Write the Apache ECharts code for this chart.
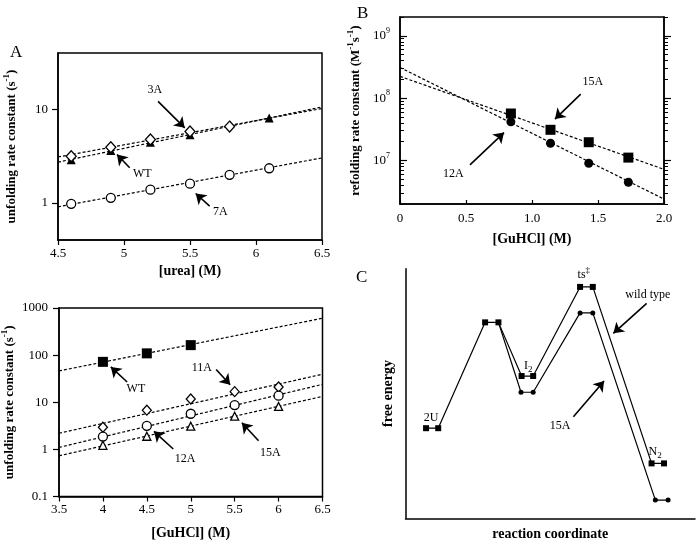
<!DOCTYPE html>
<html><head><meta charset="utf-8">
<script src="https://cdn.jsdelivr.net/npm/echarts@6/dist/echarts.min.js"></script>
<style>html,body{margin:0;padding:0;background:#fff}#c{width:700px;height:541px}</style>
</head><body><div id="c"></div>
<script>
// ---------- Panel A (top): unfolding in urea ----------
const urea3AX = [4.6, 4.9, 5.2, 5.5, 5.8];
const urea3A  = [3.15, 3.93, 4.75, 5.78, 6.53];
const ureaWTX = [4.6, 4.9, 5.2, 5.5, 6.1];
const ureaWT  = [2.88, 3.62, 4.44, 5.33, 8.09];
const urea7AX = [4.6, 4.9, 5.2, 5.5, 5.8, 6.1];
const urea7A  = [0.975, 1.13, 1.38, 1.6, 1.99, 2.34];
const ureaFitX  = [4.5, 6.5];
const ureaFit3A = [3.09, 10.2];
const ureaFitWT = [2.72, 10.6];
const ureaFit7A = [0.906, 3.02];
const ureaYTicks = [1, 10];

// ---------- Panel A (bottom): unfolding in GuHCl ----------
const guWTX = [4, 4.5, 5];
const guWT  = [72, 109, 163];
const guX   = [4, 4.5, 5, 5.5, 6];
const gu11A = [2.95, 6.8, 11.7, 16.8, 21];
const gu12A = [1.87, 3.16, 5.7, 8.7, 13.8];
const gu15A = [1.22, 1.9, 3.1, 5.06, 8.15];
const guFitX   = [3.5, 6.5];
const guFitWT  = [46.2, 607];
const guFit11A = [2.2, 39.3];
const guFit12A = [1.1, 24];
const guFit15A = [0.73, 13.3];

// ---------- Panel B: refolding ----------
const refX   = [0.84, 1.14, 1.43, 1.73];
const ref15A = [5.66e7, 3.1e7, 1.96e7, 1.11e7];
const ref12A = [4.16e7, 1.89e7, 9.0e6, 4.47e6];
const refFitX   = [0, 2];
const refFit15A = [2.23e8, 7.2e6];
const refFit12A = [3.1e8, 2.4e6];
const refMajor = [1e7, 1e8, 1e9];
const refMinor = [2e6,3e6,4e6,5e6,6e6,7e6,8e6,9e6,2e7,3e7,4e7,5e7,6e7,7e7,8e7,9e7,2e8,3e8,4e8,5e8,6e8,7e8,8e8,9e8,2e9];

// ---------- Panel C: free-energy diagram ----------
const cWTX  = [7.1, 11.3, 27.5, 32.1, 40.1, 44.1, 60.3, 64.7, 85.0, 89.3];
const cWTY  = [36.1, 36.1, 78.5, 78.5, 57.0, 57.0, 92.7, 92.7, 22.0, 22.0];
const c15AX = [32.1, 39.9, 44.1, 60.3, 64.7, 86.3, 90.7];
const c15AY = [78.5, 50.5, 50.5, 82.3, 82.3, 7.3, 7.3];

// ---------- annotations (data coordinates) ----------
const annA1 = [
  {text:'3A', at:[5.233,15.96], from:[5.258,12.17], to:[5.46,6.33]},
  {text:'WT', at:[5.139,2.04], from:[5.043,2.366], to:[4.947,3.28]},
  {text:'7A', at:[5.73,0.807], from:[5.649,0.92], to:[5.543,1.257]}
];
const annA2 = [
  {text:'WT', at:[4.376,19.5], from:[4.276,26.9], to:[4.09,56.3]},
  {text:'11A', at:[5.126,53.6], from:[5.289,49.5], to:[5.449,23.6]},
  {text:'12A', at:[4.935,0.624], from:[4.801,1.02], to:[4.581,2.42]},
  {text:'15A', at:[5.905,0.863], from:[5.772,1.53], to:[5.582,3.66]}
];
const annB = [
  {text:'15A', at:[1.46,1.81e8], from:[1.369,1.16e8], to:[1.174,4.6e7]},
  {text:'12A', at:[0.404,6.2e6], from:[0.53,8.5e6], to:[0.788,2.8e7]}
];
const annC = [
  {text:'wild type', at:[83.7,89.7], from:[83.3,86.1], to:[71.8,74.1]},
  {text:'15A', at:[53.4,37.0], from:[58.0,40.7], to:[68.6,55.0]},
  {text:'{n|2U}', at:[8.8,40.1]},
  {text:'{n|I}{sub|2}', at:[42.4,61.2]},
  {text:'{n|ts}{sup|\u2021}', at:[61.6,97.6]},
  {text:'{n|N}{sub|2}', at:[86.2,26.8]}
];

const FONT = '"Liberation Serif","Times New Roman",serif';
const K = '#000';

function pts(xs, ys) { return xs.map((x, i) => [x, ys[i]]); }

function fit(xi, yi, xs, ys) {
  return {type:'line', xAxisIndex:xi, yAxisIndex:yi, data:pts(xs, ys), symbol:'none', silent:true, z:2,
    lineStyle:{color:K, width:1.2, type:[3,2]}};
}
function scat(xi, yi, xs, ys, symbol, size, open) {
  return {type:'scatter', xAxisIndex:xi, yAxisIndex:yi, data:pts(xs, ys), symbol:symbol, symbolSize:size, z:4, silent:true,
    itemStyle: open ? {color:'#fff', borderColor:K, borderWidth:1.3, opacity:1} : {color:K, opacity:1}};
}
const richC = {
  n:{fontSize:12, fontFamily:FONT, color:K, lineHeight:18},
  sub:{fontSize:9, fontFamily:FONT, color:K, verticalAlign:'bottom', lineHeight:9},
  sup:{fontSize:9, fontFamily:FONT, color:K, verticalAlign:'top', lineHeight:10}
};
function annot(xi, yi, list) {
  const arrows = list.filter(a => a.from);
  return {type:'line', xAxisIndex:xi, yAxisIndex:yi, data:[], silent:true, z:5,
    markLine:{silent:true, symbol:['none','arrow'], symbolSize:10, animation:false,
      lineStyle:{color:K, width:1.6, type:'solid'}, label:{show:false},
      data: arrows.map(a => [{coord:a.from}, {coord:a.to}])},
    markPoint:{silent:true, symbol:'circle', symbolSize:0, animation:false, itemStyle:{color:'transparent'},
      label:{show:true, position:'inside', color:K, fontFamily:FONT, fontSize:12, formatter:p => p.name, rich:richC},
      data: list.map(a => ({name:a.text, coord:a.at}))}
  };
}

const tickLbl = {color:K, fontFamily:FONT, fontSize:13};
const nameX = {color:K, fontFamily:FONT, fontSize:14, fontWeight:'bold'};
const richName = {
  t:{fontSize:13, fontWeight:'bold', fontFamily:FONT, color:K, lineHeight:20},
  s:{fontSize:9, fontWeight:'bold', fontFamily:FONT, color:K, verticalAlign:'top', lineHeight:10}
};
const aLine = {show:true, lineStyle:{color:K, width:1.5}};
const gridBox = {show:true, borderColor:K, borderWidth:1.5, backgroundColor:'transparent', containLabel:false, outerBoundsMode:'none'};

const option = {
  animation:false,
  backgroundColor:'#fff',
  title:[
    {text:'A', left:5, top:39, textStyle:{fontFamily:FONT, fontSize:17, fontWeight:'normal', color:K}},
    {text:'B', left:352, top:0, textStyle:{fontFamily:FONT, fontSize:17, fontWeight:'normal', color:K}},
    {text:'C', left:351, top:264, textStyle:{fontFamily:FONT, fontSize:17, fontWeight:'normal', color:K}}
  ],
  grid:[
    Object.assign({left:58, top:53, width:264, height:187}, gridBox),
    Object.assign({left:400, top:17, width:264, height:187}, gridBox),
    Object.assign({left:59, top:308, width:263.5, height:188.5}, gridBox),
    {left:405.5, top:268.7, width:289.5, height:249.6, show:false, containLabel:false, outerBoundsMode:'none'}
  ],
  xAxis:[
    {gridIndex:0, type:'value', min:4.5, max:6.5, interval:0.5, axisLine:aLine,
     axisTick:{show:true, inside:false, length:5, lineStyle:{color:K, width:1.2}},
     axisLabel:Object.assign({margin:7}, tickLbl), splitLine:{show:false},
     name:'[urea] (M)', nameLocation:'middle', nameGap:24, nameTextStyle:nameX},
    {gridIndex:1, type:'value', min:0, max:2, interval:0.5, axisLine:aLine,
     axisTick:{show:true, inside:true, length:4, lineStyle:{color:K, width:1.2}},
     axisLabel:Object.assign({margin:8, formatter:v => v === 0 ? '0' : v.toFixed(1)}, tickLbl), splitLine:{show:false},
     name:'[GuHCl] (M)', nameLocation:'middle', nameGap:28, nameTextStyle:nameX},
    {gridIndex:2, type:'value', min:3.5, max:6.5, interval:0.5, axisLine:aLine,
     axisTick:{show:true, inside:false, length:5, lineStyle:{color:K, width:1.2}},
     axisLabel:Object.assign({margin:7}, tickLbl), splitLine:{show:false},
     name:'[GuHCl] (M)', nameLocation:'middle', nameGap:30, nameTextStyle:nameX},
    {gridIndex:3, type:'value', min:0, max:100, axisLine:aLine, axisTick:{show:false}, axisLabel:{show:false}, splitLine:{show:false},
     name:'reaction coordinate', nameLocation:'middle', nameGap:9, nameTextStyle:nameX}
  ],
  yAxis:[
    {gridIndex:0, type:'log', logBase:10, min:0.4, max:40, axisLine:aLine,
     axisTick:{show:true, inside:false, length:6, customValues:ureaYTicks, lineStyle:{color:K, width:1.2}},
     axisLabel:Object.assign({margin:10, customValues:ureaYTicks, formatter:v => String(v)}, tickLbl), splitLine:{show:false},
     name:'{t|unfolding rate constant (s}{s|-1}{t|)}', nameLocation:'middle', nameGap:36, nameTextStyle:{rich:richName}},
    {gridIndex:1, type:'log', logBase:10, min:2e6, max:2e9, axisLine:aLine,
     axisTick:{show:true, inside:true, length:7, customValues:refMajor, lineStyle:{color:K, width:1.2}},
     axisLabel:{margin:10, customValues:refMajor, formatter:v => '{b|10}{s|' + Math.round(Math.log10(v)) + '}',
       rich:{b:{fontSize:13, fontFamily:FONT, color:K, lineHeight:18}, s:{fontSize:8, fontFamily:FONT, color:K, verticalAlign:'top', lineHeight:10}}},
     splitLine:{show:false},
     name:'{t|refolding rate constant (M}{s|-1}{t|s}{s|-1}{t|)}', nameLocation:'middle', nameGap:34, nameTextStyle:{rich:richName}},
    {gridIndex:1, type:'log', logBase:10, min:2e6, max:2e9, position:'right', axisLine:aLine,
     axisTick:{show:true, inside:false, length:7, customValues:refMajor, lineStyle:{color:K, width:1.2}},
     axisLabel:{show:false}, splitLine:{show:false}},
    {gridIndex:1, type:'log', logBase:10, min:2e6, max:2e9, position:'left', axisLine:{show:false},
     axisTick:{show:true, inside:true, length:4, customValues:refMinor, lineStyle:{color:K, width:1}},
     axisLabel:{show:false}, splitLine:{show:false}},
    {gridIndex:1, type:'log', logBase:10, min:2e6, max:2e9, position:'right', axisLine:{show:false},
     axisTick:{show:true, inside:false, length:4, customValues:refMinor, lineStyle:{color:K, width:1}},
     axisLabel:{show:false}, splitLine:{show:false}},
    {gridIndex:2, type:'log', logBase:10, min:0.1, max:1000, axisLine:aLine,
     axisTick:{show:true, inside:false, length:6, lineStyle:{color:K, width:1.2}},
     axisLabel:Object.assign({margin:11, formatter:v => String(v)}, tickLbl), splitLine:{show:false},
     name:'{t|unfolding rate constant (s}{s|-1}{t|)}', nameLocation:'middle', nameGap:39, nameTextStyle:{rich:richName}},
    {gridIndex:3, type:'value', min:0, max:100, axisLine:aLine, axisTick:{show:false}, axisLabel:{show:false}, splitLine:{show:false},
     name:'free energy', nameLocation:'middle', nameGap:10, nameTextStyle:nameX}
  ],
  series:[
    // Panel A top
    fit(0, 0, ureaFitX, ureaFit3A),
    fit(0, 0, ureaFitX, ureaFitWT),
    fit(0, 0, ureaFitX, ureaFit7A),
    scat(0, 0, ureaWTX, ureaWT, 'triangle', 9, false),
    scat(0, 0, urea3AX, urea3A, 'diamond', [10, 11], true),
    scat(0, 0, urea7AX, urea7A, 'circle', 9, true),
    annot(0, 0, annA1),
    // Panel B
    fit(1, 1, refFitX, refFit15A),
    fit(1, 1, refFitX, refFit12A),
    scat(1, 1, refX, ref15A, 'rect', 10, false),
    scat(1, 1, refX, ref12A, 'circle', 9, false),
    annot(1, 1, annB),
    // Panel A bottom
    fit(2, 5, guFitX, guFitWT),
    fit(2, 5, guFitX, guFit11A),
    fit(2, 5, guFitX, guFit12A),
    fit(2, 5, guFitX, guFit15A),
    scat(2, 5, guWTX, guWT, 'rect', 10, false),
    scat(2, 5, guX, gu11A, 'diamond', [9, 10], true),
    scat(2, 5, guX, gu12A, 'circle', 9, true),
    scat(2, 5, guX, gu15A, 'triangle', 8, true),
    annot(2, 5, annA2),
    // Panel C
    {type:'line', xAxisIndex:3, yAxisIndex:6, data:pts(cWTX, cWTY), symbol:'rect', symbolSize:6, showSymbol:true, silent:true, z:3,
     itemStyle:{color:K}, lineStyle:{color:K, width:1.2}},
    {type:'line', xAxisIndex:3, yAxisIndex:6, silent:true, z:3, symbol:'circle', symbolSize:5, showSymbol:true,
     itemStyle:{color:K}, lineStyle:{color:K, width:1.2},
     data: pts(c15AX, c15AY).map((p, i) => i === 0 ? {value:p, symbol:'none'} : {value:p})},
    annot(3, 6, annC)
  ]
};
const chart = echarts.init(document.getElementById('c'), null, {renderer:'canvas'});
chart.setOption(option);
</script>
</body></html>
